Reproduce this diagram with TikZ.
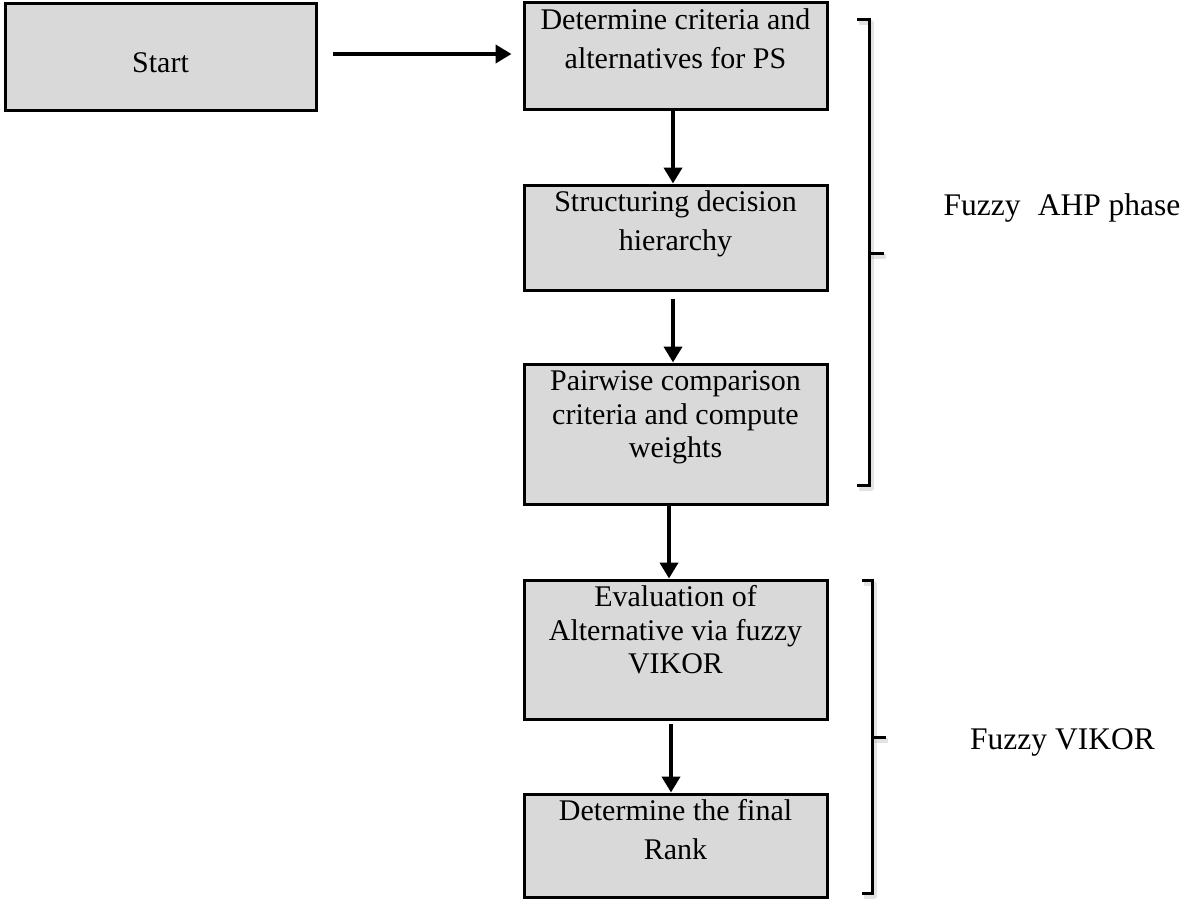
\documentclass[tikz,border=0pt]{standalone}
\usepackage{fontspec}
\setmainfont{Liberation Serif}
\usetikzlibrary{arrows.meta}
\definecolor{boxgray}{HTML}{D9D9D9}
\definecolor{shadowgray}{HTML}{B0B0B0}
\begin{document}
\begin{tikzpicture}[x=1pt,y=-1pt,
  box/.style={draw=black, line width=3pt, fill=boxgray, inner sep=0pt, minimum width=303pt},
  twoline/.style={font=\fontsize{30}{38.5}\selectfont, align=center, inner sep=0pt, anchor=north},
  threeline/.style={font=\fontsize{30}{33.5}\selectfont, align=center, inner sep=0pt, anchor=north},
  arr/.style={line width=4pt, -{Triangle[length=16pt,width=18pt]}},
  brk/.style={line width=3pt, line join=miter},
  brkshadow/.style={line width=5pt, draw=shadowgray, opacity=0.35, line join=round},
  phase/.style={font=\fontsize{31.5}{36}\selectfont, anchor=base, inner sep=0pt}]
\useasboundingbox (0,0) rectangle (1182,899);

% boxes
\node[box, minimum width=311pt, minimum height=106pt] (start) at (160.5,57) {};
\node[box, minimum height=106pt] (b1) at (675.5,56) {};
\node[box, minimum height=105pt] (b2) at (675.5,237.5) {};
\node[box, minimum height=140pt] (b3) at (675.5,434) {};
\node[box, minimum height=139pt] (b4) at (675.5,649.5) {};
\node[box, minimum height=103pt] (b5) at (675.5,845.5) {};

% texts
\node[phase, font=\fontsize{30}{36}\selectfont] (tstart) at (start.center |- 0,72) {Start};
\node[twoline] (t1) at ([yshift=-6pt]b1.north) {\rule{0pt}{22pt}Determine criteria and\\alternatives for PS};
\node[twoline] (t2) at ([yshift=-6pt]b2.north) {\rule{0pt}{22pt}Structuring decision\\hierarchy};
\node[threeline] (t3) at ([yshift=-6pt]b3.north) {\rule{0pt}{22pt}Pairwise comparison\\criteria and compute\\weights};
\node[threeline] (t4) at ([yshift=-6pt]b4.north) {\rule{0pt}{22pt}Evaluation of\\Alternative via fuzzy\\VIKOR};
\node[twoline] (t5) at ([yshift=-6pt]b5.north) {\rule{0pt}{22pt}Determine the final\\Rank};

% connectors
\draw[arr] ([xshift=15pt,yshift=3pt]start.east) -- ([xshift=-11pt,yshift=2pt]b1.west);
\draw[arr] ([xshift=-2.5pt]b1.south) -- ([xshift=-2.5pt]b2.north);
\draw[arr, shorten <=7pt] ([xshift=-2.5pt]b2.south) -- ([xshift=-2.5pt]b3.north);
\draw[arr] ([xshift=-6.5pt]b3.south) -- ([xshift=-6.5pt]b4.north);
\draw[arr, shorten <=3pt] ([xshift=-4.5pt]b4.south) -- ([xshift=-4.5pt]b5.north);

% brackets
\coordinate (k1a) at (857,20);
\coordinate (k1b) at (869,20);
\coordinate (k1m) at (869,253);
\coordinate (k1t) at (884,253);
\coordinate (k1c) at (869,485);
\coordinate (k1d) at (857,485);
\draw[brkshadow] ([shift={(2pt,-3pt)}]k1a) -- ([shift={(2pt,-3pt)}]k1b) -- ([shift={(2pt,-3pt)}]k1c) -- ([shift={(2pt,-3pt)}]k1d);
\draw[brkshadow] ([shift={(2pt,-3pt)}]k1m) -- ([shift={(2pt,-3pt)}]k1t);
\draw[brk] (k1a) -- (k1b) -- (k1c) -- (k1d);
\draw[brk] (k1m) -- (k1t);

\coordinate (k2a) at (862,580);
\coordinate (k2b) at (872,580);
\coordinate (k2m) at (872,737);
\coordinate (k2t) at (886,737);
\coordinate (k2c) at (872,893);
\coordinate (k2d) at (862,893);
\draw[brkshadow] ([shift={(2pt,-3pt)}]k2a) -- ([shift={(2pt,-3pt)}]k2b) -- ([shift={(2pt,-3pt)}]k2c) -- ([shift={(2pt,-3pt)}]k2d);
\draw[brkshadow] ([shift={(2pt,-3pt)}]k2m) -- ([shift={(2pt,-3pt)}]k2t);
\draw[brk] (k2a) -- (k2b) -- (k2c) -- (k2d);
\draw[brk] (k2m) -- (k2t);

% phase labels
\node[phase] (lahp) at (1062,215) {Fuzzy\hspace{0.55em}AHP phase};
\node[phase] (lvik) at (1062.5,749) {Fuzzy VIKOR};
\end{tikzpicture}
\end{document}
